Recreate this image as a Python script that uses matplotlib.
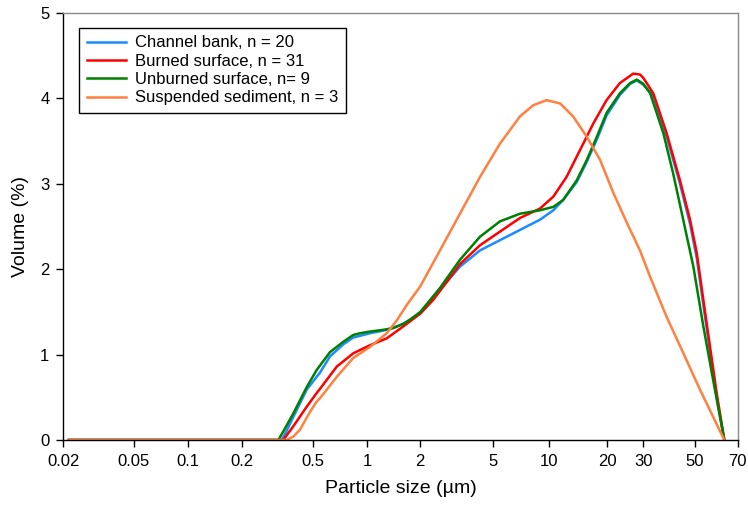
import numpy as np
import matplotlib.pyplot as plt
from matplotlib.ticker import FixedLocator, FixedFormatter

plt.rcParams['font.family'] = ['Liberation Sans', 'DejaVu Sans']

# particle size (um) / volume (%)
bank_size = [0.0215, 0.335, 0.352, 0.389, 0.463, 0.549, 0.624, 0.739, 0.839, 1.04, 1.292, 1.603,
             2.0, 2.56, 3.29, 4.23, 5.43, 6.96, 8.91, 10.5, 11.8, 13.9, 15.7, 17.7, 19.9,
             23.1, 25.9, 27.9, 30.0, 33.1, 37.8, 43.1, 47.6, 50.7, 53.4, 56.3, 59.3, 63.0]
bank_vol = [0, 0, 0.08, 0.27, 0.59, 0.79, 0.98, 1.12, 1.20, 1.25, 1.29, 1.36,
            1.48, 1.76, 2.03, 2.22, 2.34, 2.46, 2.58, 2.69, 2.81, 3.02, 3.26, 3.52, 3.80,
            4.04, 4.17, 4.21, 4.16, 4.03, 3.55, 3.00, 2.53, 2.13, 1.58, 1.03, 0.50, 0]

burned_size = [0.0215, 0.342, 0.389, 0.463, 0.526, 0.549, 0.68, 0.839, 1.04, 1.292, 1.603,
               2.0, 2.35, 2.9, 3.29, 4.23, 5.43, 6.96, 8.91, 10.5, 12.3, 14.5, 17.0, 19.9,
               23.1, 26.8, 28.9, 30.0, 33.1, 37.8, 43.1, 47.6, 50.7, 53.4, 56.3, 59.3, 63.0]
burned_vol = [0, 0, 0.16, 0.39, 0.55, 0.60, 0.86, 1.015, 1.11, 1.19, 1.33,
              1.48, 1.64, 1.90, 2.06, 2.28, 2.44, 2.60, 2.71, 2.85, 3.08, 3.40, 3.71, 3.98,
              4.18, 4.29, 4.28, 4.24, 4.06, 3.59, 3.04, 2.58, 2.19, 1.64, 1.09, 0.55, 0]

unburned_size = [0.0215, 0.321, 0.342, 0.389, 0.463, 0.526, 0.624, 0.739, 0.839, 0.915, 1.04,
                 1.236, 1.408, 1.603, 1.749, 2.0, 2.56, 3.29, 4.23, 5.43, 6.96, 8.91, 10.5,
                 11.8, 13.9, 15.7, 17.7, 19.9, 23.1, 25.9, 27.9, 30.0, 32.1, 36.6, 40.3,
                 44.5, 49.2, 53.4, 57.7, 63.0]
unburned_vol = [0, 0, 0.10, 0.31, 0.62, 0.82, 1.03, 1.15, 1.23, 1.25, 1.27,
                1.29, 1.31, 1.36, 1.41, 1.50, 1.78, 2.11, 2.38, 2.56, 2.65, 2.69, 2.73,
                2.81, 3.04, 3.28, 3.55, 3.83, 4.06, 4.18, 4.22, 4.17, 4.06, 3.59, 3.12,
                2.58, 2.03, 1.33, 0.70, 0]

susp_size = [0.0215, 0.358, 0.389, 0.424, 0.483, 0.526, 0.549, 0.68, 0.839, 1.04, 1.292, 1.472,
             1.676, 2.0, 2.56, 3.29, 4.23, 5.43, 6.96, 8.2, 9.68, 11.4, 13.3, 15.7, 18.4,
             21.5, 24.9, 28.9, 32.1, 37.8, 44.5, 52.0, 57.7, 63.0]
susp_vol = [0, 0, 0.04, 0.12, 0.33, 0.45, 0.49, 0.74, 0.96, 1.09, 1.25, 1.40,
            1.58, 1.80, 2.22, 2.65, 3.08, 3.47, 3.79, 3.92, 3.98, 3.94, 3.79, 3.55, 3.28,
            2.89, 2.55, 2.22, 1.91, 1.44, 1.02, 0.59, 0.27, 0]

labels = ['Channel bank, n = 20', 'Burned surface, n = 31',
          'Unburned surface, n= 9', 'Suspended sediment, n = 3']
colors = ['#1a8cff', '#ff0000', '#008000', '#ff8040']

tick_vals = [0.02, 0.05, 0.1, 0.2, 0.5, 1, 2, 5, 10, 20, 30, 50, 70]
tick_labels = ['0.02', '0.05', '0.1', '0.2', '0.5', '1', '2', '5', '10', '20', '30', '50', '70']

# the original axis is log-like but stretched above ~10 um -> map ticks to their positions
tick_pos = [63.3, 134, 188, 241.7, 312.7, 367, 420.3, 493.3, 549.3, 607, 643.3, 695, 737.7]
lg = list(np.log10(tick_vals))
lg_ext = [-10.0] + lg + [10.0]
pos_ext = [tick_pos[0] - (lg[0] + 10) * 179] + tick_pos + [tick_pos[-1] + (10 - lg[-1]) * 290]


def fwd(x):
    x = np.clip(np.asarray(x, dtype=float), 1e-12, None)
    return np.interp(np.log10(x), lg_ext, pos_ext)


def inv(p):
    return 10 ** np.interp(np.asarray(p, dtype=float), pos_ext, lg_ext)


fig = plt.figure(figsize=(7.48, 5.09), dpi=100)
ax = fig.add_axes([63.3 / 748, 1 - 440 / 509, (737.7 - 63.3) / 748, 427 / 509])

series = [(bank_size, bank_vol), (burned_size, burned_vol),
          (unburned_size, unburned_vol), (susp_size, susp_vol)]
for (xs, ys), lab, c in zip(series, labels, colors):
    ax.plot(xs, ys, color=c, lw=1.8, label=lab, solid_joinstyle='round')

ax.set_xscale('function', functions=(fwd, inv))
ax.set_xlim(0.02, 70)
ax.set_ylim(0, 5)
ax.xaxis.set_major_locator(FixedLocator(tick_vals))
ax.xaxis.set_major_formatter(FixedFormatter(tick_labels))
ax.xaxis.set_minor_locator(FixedLocator([]))
ax.set_yticks([0, 1, 2, 3, 4, 5])

ax.tick_params(direction='out', length=5, width=1, labelsize=12, pad=5)
for s in ['left', 'bottom']:
    ax.spines[s].set_color('black')
    ax.spines[s].set_linewidth(1.0)
for s in ['top', 'right']:
    ax.spines[s].set_color('#8a8a8a')
    ax.spines[s].set_linewidth(1.0)

ax.set_xlabel('Particle size (µm)', fontsize=14, labelpad=8)
ax.set_ylabel('Volume (%)', fontsize=14, labelpad=8)

leg = ax.legend(loc='upper left', bbox_to_anchor=(0.0233, 0.965), borderaxespad=0,
                fontsize=12, frameon=True, fancybox=False, framealpha=1,
                handlelength=2.35, handletextpad=0.55, labelspacing=0.2, borderpad=0.45)
leg.get_frame().set_edgecolor('black')
leg.get_frame().set_linewidth(1.0)

fig.savefig('out.png', dpi=100)
